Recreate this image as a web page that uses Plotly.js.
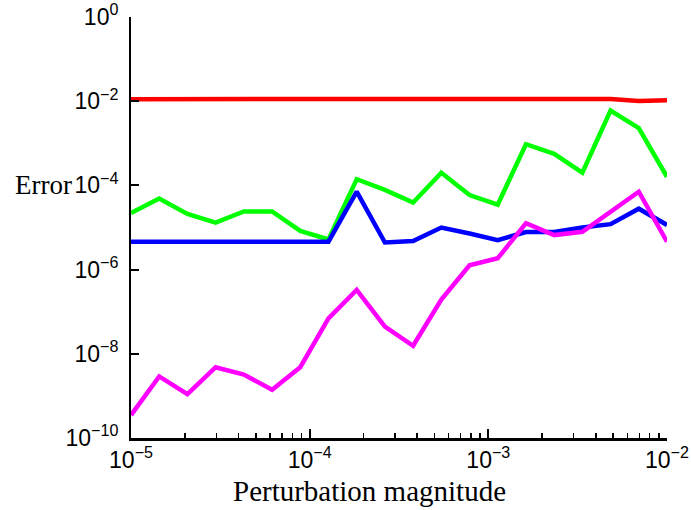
<!DOCTYPE html>
<html>
<head>
<meta charset="utf-8">
<script src="https://cdn.plot.ly/plotly-3.0.1.min.js"></script>
<style>html,body{margin:0;padding:0;background:#fff;overflow:hidden}#chart{width:691px;height:510px}</style>
</head>
<body>
<div id="chart"></div>
<script>
// Perturbation magnitudes (x)
const perturbation = [1e-5, 1.438e-5, 2.069e-5, 2.976e-5, 4.281e-5, 6.158e-5, 8.859e-5,
  1.274e-4, 1.833e-4, 2.637e-4, 3.793e-4, 5.456e-4, 7.848e-4, 1.129e-3, 1.624e-3,
  2.336e-3, 3.360e-3, 4.833e-3, 6.952e-3, 1e-2];
// Error series
const redErr = [1.12e-2, 1.12e-2, 1.12e-2, 1.12e-2, 1.12e-2, 1.12e-2, 1.12e-2, 1.12e-2, 1.12e-2,
  1.12e-2, 1.12e-2, 1.12e-2, 1.12e-2, 1.12e-2, 1.13e-2, 1.15e-2, 1.16e-2, 1.13e-2, 1.01e-2, 1.05e-2];
const greenErr = [2.2e-5, 4.9e-5, 2.1e-5, 1.3e-5, 2.4e-5, 2.4e-5, 8.3e-6, 5.2e-6, 1.4e-4, 7.8e-5,
  3.9e-5, 2.0e-4, 5.9e-5, 3.5e-5, 9.5e-4, 5.6e-4, 2.0e-4, 6.0e-3, 2.3e-3, 1.6e-4];
const blueErr = [4.6e-6, 4.6e-6, 4.6e-6, 4.6e-6, 4.6e-6, 4.55e-6, 4.6e-6, 4.6e-6, 7.1e-5, 4.4e-6,
  4.8e-6, 1.0e-5, 7.2e-6, 5.0e-6, 7.8e-6, 7.8e-6, 1.0e-5, 1.2e-5, 2.8e-5, 1.15e-5];
const magentaErr = [3.5e-10, 2.9e-9, 1.1e-9, 4.8e-9, 3.2e-9, 1.4e-9, 4.8e-9, 6.9e-8, 3.3e-7, 4.4e-8,
  1.55e-8, 1.95e-7, 1.26e-6, 1.86e-6, 1.26e-5, 6.6e-6, 7.9e-6, 2.45e-5, 7.1e-5, 4.6e-6];

// Tick labels
const xTickVals = [1e-5, 1e-4, 1e-3, 1e-2];
const xTickText = ['10<sup>−5</sup>', '10<sup>−4</sup>', '10<sup>−3</sup>', '10<sup>−2</sup>'];
const xMinorVals = [2e-5, 3e-5, 4e-5, 5e-5, 6e-5, 7e-5, 8e-5, 9e-5,
  2e-4, 3e-4, 4e-4, 5e-4, 6e-4, 7e-4, 8e-4, 9e-4,
  2e-3, 3e-3, 4e-3, 5e-3, 6e-3, 7e-3, 8e-3, 9e-3];
const yTickVals = [1e-10, 1e-8, 1e-6, 1e-4, 1e-2, 1];
const yTickText = ['10<sup>−10</sup>', '10<sup>−8</sup>', '10<sup>−6</sup>', '10<sup>−4</sup>', '10<sup>−2</sup>', '10<sup>0</sup>'];

const series = [
  {y: greenErr, color: '#00ff00'},
  {y: blueErr, color: '#0000ff'},
  {y: magentaErr, color: '#ff00ff'},
  {y: redErr, color: '#ff0000'}
];
const traces = series.map(s => ({
  x: perturbation, y: s.y, type: 'scatter', mode: 'lines',
  line: {color: s.color, width: 4.5}, hoverinfo: 'none', showlegend: false
}));

const tickFont = {family: 'Liberation Sans, Arial, sans-serif', size: 23, color: '#000'};
const serif = 'Liberation Serif, DejaVu Serif, serif';
const xRange = [-5.0001, -1.9999];

const layout = {
  width: 691, height: 510,
  margin: {l: 131, r: 24, t: 17, b: 72},
  showlegend: false,
  xaxis: {
    type: 'log', range: xRange,
    tickmode: 'array', tickvals: xTickVals, ticktext: xTickText,
    showline: true, linecolor: '#000', linewidth: 2.5,
    showgrid: false, zeroline: false,
    ticks: 'inside', ticklen: 9, tickwidth: 2, tickcolor: '#000',
    tickfont: tickFont
  },
  xaxis2: {
    type: 'log', range: xRange, overlaying: 'x', anchor: 'y', side: 'bottom',
    tickmode: 'array', tickvals: xMinorVals, showticklabels: false,
    showline: false, showgrid: false, zeroline: false,
    ticks: 'inside', ticklen: 5, tickwidth: 1.5, tickcolor: '#000'
  },
  yaxis: {
    type: 'log', range: [-10.0001, 0.0001],
    tickmode: 'array', tickvals: yTickVals, ticktext: yTickText,
    showline: true, linecolor: '#000', linewidth: 2,
    showgrid: false, zeroline: false,
    ticks: 'inside', ticklen: 8, tickwidth: 2, tickcolor: '#000',
    tickfont: tickFont, ticklabelstandoff: 6
  },
  annotations: [
    {text: 'Error', xref: 'paper', yref: 'y', x: -0.105, y: -4, xanchor: 'right', yanchor: 'middle',
     xshift: -1, showarrow: false, font: {family: serif, size: 27, color: '#000'}},
    {text: 'Perturbation magnitude', xref: 'paper', yref: 'paper', x: 0.445, y: -0.125,
     xanchor: 'center', yanchor: 'middle', showarrow: false,
     font: {family: serif, size: 29, color: '#000'}},
    {text: '2.3: Comparison of methods based on perturbation magnitude for the gradient estimate',
     xref: 'paper', yref: 'paper', x: -0.255, y: -0.2, xanchor: 'left', yanchor: 'top', yshift: 20,
     showarrow: false, font: {family: serif, size: 28, color: '#000'}}
  ]
};

// an empty trace on xaxis2 so its minor ticks are drawn
traces.push({x: [], y: [], type: 'scatter', mode: 'lines', xaxis: 'x2', yaxis: 'y', showlegend: false, hoverinfo: 'none'});

Plotly.newPlot('chart', traces, layout, {displayModeBar: false, staticPlot: true});
</script>
</body>
</html>
